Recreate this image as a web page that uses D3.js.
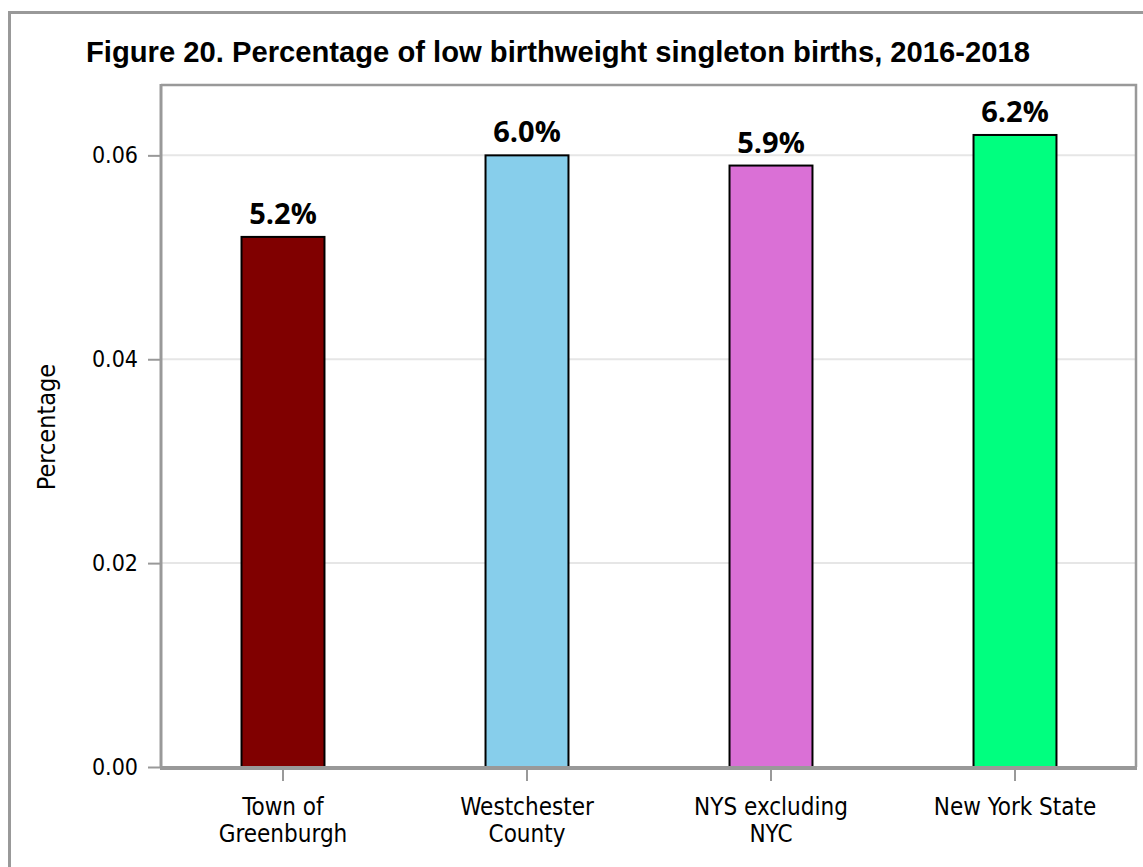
<!DOCTYPE html>
<html lang="en">
<head>
<meta charset="UTF-8">
<script src="https://d3js.org/d3.v7.min.js"></script>
<title>Figure 20</title>
<style>
  body { margin: 0; background: #fff; }
  text { font-family: "DejaVu Sans Condensed", "DejaVu Sans", sans-serif; font-stretch: condensed; fill: #000; }
  .title { font-family: "Liberation Sans", Arial, sans-serif; font-stretch: normal; font-weight: 700; font-size: 29.2px; }
  .value { font-family: "Open Sans", sans-serif; font-stretch: normal; font-weight: 700; font-size: 29px; }
  .tick-label { font-size: 23px; }
  .cat-label { font-size: 24px; }
  .axis-title { font-size: 25px; }
</style>
</head>
<body>
<div id="chart"></div>
<script>
  // Data
  const categories = ["Town of Greenburgh", "Westchester County", "NYS excluding NYC", "New York State"];
  const labelLines = [["Town of", "Greenburgh"], ["Westchester", "County"], ["NYS excluding", "NYC"], ["New York State"]];
  const values = [0.052, 0.060, 0.059, 0.062];
  const valueLabels = ["5.2%", "6.0%", "5.9%", "6.2%"];
  const colors = ["#800000", "#87ceeb", "#da70d6", "#00ff7f"];
  const yTicks = [0, 0.02, 0.04, 0.06];

  const width = 1143, height = 867;
  const margin = { top: 84, right: 6, bottom: 100, left: 161 };
  const innerW = width - margin.left - margin.right;
  const innerH = height - margin.top - margin.bottom;

  const svg = d3.select("#chart").append("svg")
    .attr("width", width)
    .attr("height", height);

  // outer frame
  svg.append("path")
    .attr("d", `M9.5,${height + 5}V12.5H${width + 5}`)
    .attr("fill", "none")
    .attr("stroke", "#999")
    .attr("stroke-width", 3);

  svg.append("text")
    .attr("class", "title")
    .attr("x", 86)
    .attr("y", 62)
    .text("Figure 20. Percentage of low birthweight singleton births, 2016-2018");

  const g = svg.append("g").attr("transform", `translate(${margin.left},${margin.top})`);

  const x = d3.scaleBand().domain(categories).range([0, innerW]).paddingInner(0.66).paddingOuter(0.33);
  const y = d3.scaleLinear().domain([0, 0.067]).range([innerH, 0]);

  // grid
  g.append("g").selectAll("line")
    .data(yTicks.filter(d => d > 0))
    .join("line")
    .attr("x1", 0).attr("x2", innerW)
    .attr("y1", d => y(d)).attr("y2", d => y(d))
    .attr("stroke", "#e6e6e6")
    .attr("stroke-width", 2);

  // panel border (top, right)
  g.append("path")
    .attr("d", `M0,1H${innerW - 1}V${innerH}`)
    .attr("fill", "none")
    .attr("stroke", "#999")
    .attr("stroke-width", 2.5);

  // y axis
  const yAxis = g.append("g")
    .call(d3.axisLeft(y).tickValues(yTicks).tickFormat(d3.format(".2f")).tickSize(13).tickPadding(10));
  yAxis.select(".domain").remove();
  yAxis.selectAll(".tick line").attr("stroke", "#999").attr("stroke-width", 2);
  yAxis.selectAll(".tick text").attr("class", "tick-label").attr("fill", "#000");
  yAxis.attr("font-family", null).attr("font-size", null);
  g.append("line")
    .attr("x1", 0).attr("x2", 0).attr("y1", 0).attr("y2", innerH)
    .attr("stroke", "#999").attr("stroke-width", 3);

  // bars
  g.append("g").selectAll("rect")
    .data(values)
    .join("rect")
    .attr("x", (d, i) => x(categories[i]))
    .attr("y", d => y(d))
    .attr("width", x.bandwidth())
    .attr("height", d => innerH - y(d))
    .attr("fill", (d, i) => colors[i])
    .attr("stroke", "#000")
    .attr("stroke-width", 2);

  // value labels
  g.append("g").selectAll("text")
    .data(values)
    .join("text")
    .attr("class", "value")
    .attr("x", (d, i) => x(categories[i]) + x.bandwidth() / 2)
    .attr("y", d => y(d) - 13)
    .attr("text-anchor", "middle")
    .text((d, i) => valueLabels[i]);

  // x axis
  g.append("line")
    .attr("x1", -1).attr("x2", innerW)
    .attr("y1", innerH + 1).attr("y2", innerH + 1)
    .attr("stroke", "#999").attr("stroke-width", 4);

  const xTick = g.append("g").selectAll("g")
    .data(categories)
    .join("g")
    .attr("transform", d => `translate(${x(d) + x.bandwidth() / 2},${innerH})`);
  xTick.append("line")
    .attr("y1", 3).attr("y2", 14)
    .attr("stroke", "#999").attr("stroke-width", 2);
  xTick.append("text")
    .attr("class", "cat-label")
    .attr("text-anchor", "middle")
    .selectAll("tspan")
    .data((d, i) => labelLines[i])
    .join("tspan")
    .attr("x", 0)
    .attr("y", (d, i) => 48 + i * 27)
    .text(d => d);

  // y title
  svg.append("text")
    .attr("class", "axis-title")
    .attr("transform", `translate(55,427) rotate(-90)`)
    .attr("text-anchor", "middle")
    .text("Percentage");
</script>
</body>
</html>
